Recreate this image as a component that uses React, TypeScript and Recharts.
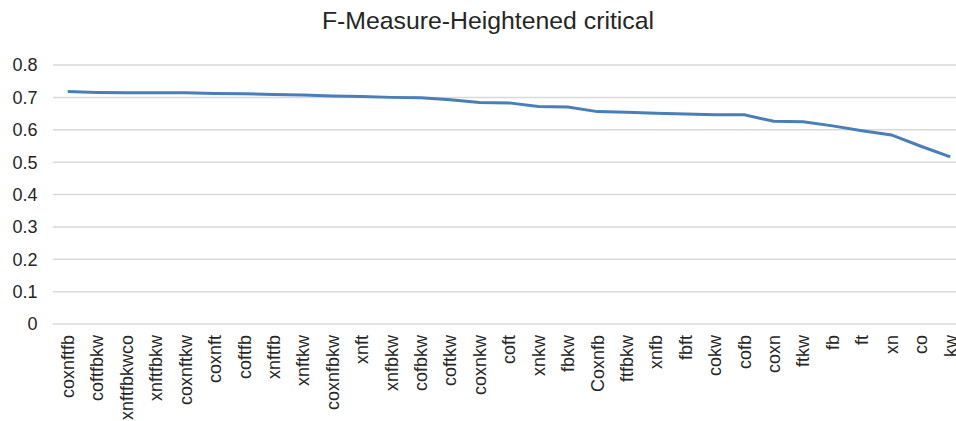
import React from "react";
import { LineChart, Line, XAxis, YAxis, CartesianGrid } from "recharts";

const categories = [
  "coxnftfb", "coftfbkw", "xnftfbkwco", "xnftfbkw", "coxnftkw", "coxnft", "coftfb", "xnftfb",
  "xnftkw", "coxnfbkw", "xnft", "xnfbkw", "cofbkw", "coftkw", "coxnkw", "coft", "xnkw", "fbkw",
  "Coxnfb", "ftfbkw", "xnfb", "fbft", "cokw", "cofb", "coxn", "ftkw", "fb", "ft", "xn", "co", "kw",
];

const fMeasure = [
  0.718, 0.715, 0.714, 0.714, 0.714, 0.712, 0.711, 0.709,
  0.707, 0.704, 0.703, 0.700, 0.699, 0.693, 0.684, 0.683, 0.672, 0.670,
  0.656, 0.654, 0.651, 0.649, 0.646, 0.646, 0.626, 0.625, 0.612, 0.597, 0.584, 0.549, 0.516,
];

const yTicks = [0, 0.1, 0.2, 0.3, 0.4, 0.5, 0.6, 0.7, 0.8];

const title = "F-Measure-Heightened critical";

const data = categories.map((name, i) => ({ name, value: fMeasure[i] }));

const FONT = '"Liberation Sans", Arial, Helvetica, sans-serif';

const XTick = (props: any) => {
  const { x, y, payload } = props;
  return (
    <text
      x={x}
      y={y}
      transform={`rotate(-90, ${x}, ${y})`}
      textAnchor="end"
      dy="0.35em"
      fontSize={18}
      fontFamily={FONT}
      fill="#262626"
    >
      {payload.value}
    </text>
  );
};

export default function App() {
  return (
    <div
      style={{
        position: "absolute",
        left: 0,
        top: 0,
        width: 956,
        height: 421,
        overflow: "hidden",
        background: "#fff",
      }}
    >
      <div
        style={{
          position: "absolute",
          left: 0,
          width: 976,
          top: 9.1,
          textAlign: "center",
          fontFamily: FONT,
          fontSize: 24.8,
          lineHeight: "24.8px",
          color: "#262626",
          whiteSpace: "nowrap",
        }}
      >
        {title}
      </div>
      <div style={{ position: "absolute", left: 0, top: 0 }}>
        <LineChart
          width={975}
          height={421}
          data={data}
          margin={{ top: 65, right: 10, bottom: 7, left: 0 }}
        >
          <CartesianGrid vertical={false} stroke="#d9d9d9" strokeWidth={1.5} />
          <XAxis
            dataKey="name"
            interval={0}
            axisLine={false}
            tickLine={false}
            tickSize={0}
            tickMargin={11}
            height={90}
            padding={{ left: 14.7, right: 14.7 }}
            tick={<XTick />}
          />
          <YAxis
            domain={[0, 0.8]}
            ticks={yTicks}
            axisLine={false}
            tickLine={false}
            tickSize={0}
            tickMargin={15.5}
            width={53}
            tick={{ fontSize: 18, fontFamily: FONT, fill: "#262626" }}
            tickFormatter={(v: number) => String(Math.round(v * 10) / 10)}
          />
          <Line
            type="linear"
            dataKey="value"
            stroke="#4a7ebb"
            strokeWidth={3}
            dot={false}
            isAnimationActive={false}
          />
        </LineChart>
      </div>
    </div>
  );
}
